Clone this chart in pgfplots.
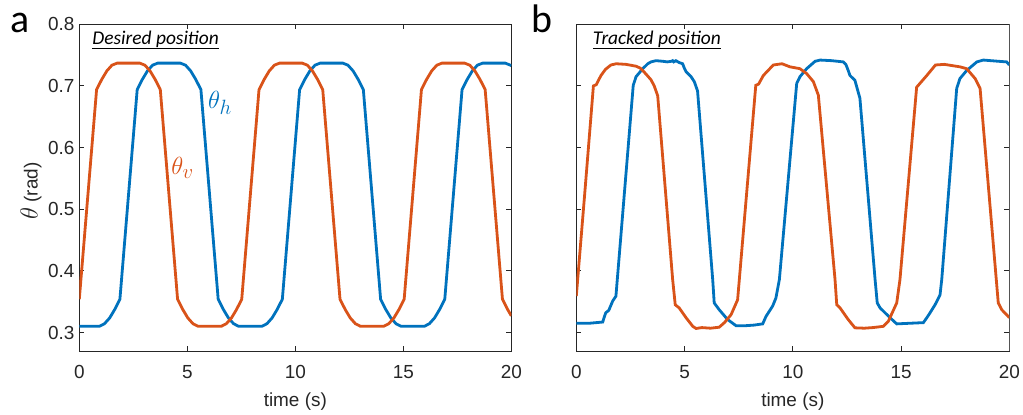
\documentclass[border=0pt]{standalone}
\usepackage{pgfplots}
\pgfplotsset{compat=1.18}
\usepackage{fontspec}
\setmainfont{Liberation Sans}
\newfontfamily\carlito{Carlito}
\definecolor{mblue}{RGB}{0,114,189}
\definecolor{morange}{RGB}{217,83,25}
\pgfplotsset{
  panel/.style={
    scale only axis, height=326.7bp,
    xmin=0, xmax=20, ymin=0.27, ymax=0.8,
    xtick={0,5,10,15,20}, ytick={0.3,0.4,0.5,0.6,0.7,0.8},
    scaled ticks=false,
    tick align=inside, tick pos=both,
    major tick length=5bp,
    axis line style={line width=0.9bp, black!85},
    every tick/.style={black!85, line width=0.9bp},
    tick label style={font=\fontsize{19}{22}\selectfont, text=black!85},
    /pgf/number format/assume math mode=true,
    xticklabel style={anchor=base, yshift=-27bp},
    yticklabel style={/pgf/number format/fixed, /pgf/number format/fixed zerofill, /pgf/number format/precision=1, xshift=-1.3bp},
    xlabel style={at={(axis description cs:0.5,-0.1714)}, anchor=base, font=\fontsize{19}{22}\selectfont, text=black!85},
    every axis plot/.append style={line width=2.8bp},
  }
}
\begin{document}
\begin{tikzpicture}
\useasboundingbox (0,0) rectangle (1023bp,415bp);
\begin{axis}[panel, width=432bp, at={(79.3bp,64bp)}, anchor=south west,
  xlabel={time (s)}]
\addplot[mblue] coordinates {(0,0.310)(0.93,0.310)(1.1675,0.3143)(1.405,0.3236)(1.6425,0.3375)(1.88,0.354)(2.68,0.694)(2.9175,0.7105)(3.155,0.7244)(3.3925,0.7337)(3.63,0.737)(4.68,0.737)(4.9175,0.7337)(5.155,0.7244)(5.3925,0.7105)(5.63,0.694)(6.43,0.354)(6.6675,0.3375)(6.905,0.3236)(7.1425,0.3143)(7.38,0.310)(8.45,0.310)(8.6875,0.3143)(8.925,0.3236)(9.1625,0.3375)(9.4,0.354)(10.2,0.694)(10.4375,0.7105)(10.675,0.7244)(10.9125,0.7337)(11.15,0.737)(12.2,0.737)(12.4375,0.7337)(12.675,0.7244)(12.9125,0.7105)(13.15,0.694)(13.95,0.354)(14.1875,0.3375)(14.425,0.3236)(14.6625,0.3143)(14.9,0.310)(15.97,0.310)(16.2075,0.3143)(16.445,0.3236)(16.6825,0.3375)(16.92,0.354)(17.72,0.694)(17.9575,0.7105)(18.195,0.7244)(18.4325,0.7337)(18.67,0.737)(19.72,0.737)(19.9575,0.7337)(20,0.7325)};
\addplot[morange] coordinates {(0,0.354)(0.8,0.694)(1.0375,0.7105)(1.275,0.7244)(1.5125,0.7337)(1.75,0.737)(2.8,0.737)(3.0375,0.7337)(3.275,0.7244)(3.5125,0.7105)(3.75,0.694)(4.55,0.354)(4.7875,0.3375)(5.025,0.3236)(5.2625,0.3143)(5.5,0.310)(6.57,0.310)(6.8075,0.3143)(7.045,0.3236)(7.2825,0.3375)(7.52,0.354)(8.32,0.694)(8.5575,0.7105)(8.795,0.7244)(9.0325,0.7337)(9.27,0.737)(10.32,0.737)(10.5575,0.7337)(10.795,0.7244)(11.0325,0.7105)(11.27,0.694)(12.07,0.354)(12.3075,0.3375)(12.545,0.3236)(12.7825,0.3143)(13.02,0.310)(14.09,0.310)(14.3275,0.3143)(14.565,0.3236)(14.8025,0.3375)(15.04,0.354)(15.84,0.694)(16.0775,0.7105)(16.315,0.7244)(16.5525,0.7337)(16.79,0.737)(17.84,0.737)(18.0775,0.7337)(18.315,0.7244)(18.5525,0.7105)(18.79,0.694)(19.59,0.354)(19.8275,0.3375)(20,0.327)};
\node[anchor=base west, inner sep=0, font=\carlito\itshape\fontsize{19.5}{21}\selectfont] at (rel axis cs:0.030,0.9397) {\underline{Desired position}};
\node[anchor=west, inner sep=0, text=mblue, font=\fontsize{31}{33}\selectfont] at (axis cs:5.96,0.672) {$\theta_h$};
\node[anchor=west, inner sep=0, text=morange, font=\fontsize{31}{33}\selectfont] at (axis cs:4.25,0.567) {$\theta_v$};
\end{axis}
\node[rotate=90, anchor=base, inner sep=0, text=black!85, font=\fontsize{19}{22}\selectfont] at (37.5bp,224bp) {{\fontsize{24}{26}\selectfont$\theta$} (rad)};
\begin{axis}[panel, width=433bp, at={(576.3bp,64bp)}, anchor=south west,
  xlabel={time (s)}, yticklabels={}]
\addplot[mblue] coordinates {(0,0.315)(0.6,0.315)(1.22,0.317)(1.30,0.326)(1.36,0.332)(1.5,0.336)(1.68,0.351)(1.83,0.359)(2.63,0.701)(2.76,0.715)(3.07,0.728)(3.3,0.736)(3.45,0.739)(3.68,0.741)(4.0,0.740)(4.2,0.739)(4.4,0.740)(4.45,0.741)(4.5,0.739)(4.6,0.741)(4.75,0.738)(4.91,0.736)(5.0,0.728)(5.07,0.723)(5.3,0.715)(5.45,0.707)(5.6,0.692)(6.3,0.386)(6.37,0.348)(6.6,0.337)(6.99,0.321)(7.38,0.311)(7.8,0.311)(8.2,0.312)(8.61,0.314)(8.76,0.326)(9.07,0.343)(9.22,0.356)(9.38,0.386)(10.18,0.704)(10.33,0.715)(10.64,0.728)(11.03,0.740)(11.26,0.742)(11.8,0.741)(12.33,0.739)(12.45,0.735)(12.56,0.725)(12.64,0.717)(12.87,0.709)(13.1,0.680)(13.8,0.386)(13.9,0.348)(14.03,0.340)(14.49,0.324)(14.8,0.314)(15.4,0.315)(16.03,0.316)(16.19,0.324)(16.34,0.332)(16.57,0.345)(16.8,0.361)(16.88,0.386)(17.57,0.696)(17.72,0.712)(18.03,0.725)(18.5,0.739)(18.8,0.742)(19.5,0.740)(19.88,0.739)(20,0.734)};
\addplot[morange] coordinates {(0,0.359)(0.4,0.53)(0.79,0.700)(0.92,0.702)(1.14,0.717)(1.35,0.727)(1.6,0.734)(1.84,0.736)(2.3,0.735)(2.76,0.732)(2.95,0.729)(3.07,0.725)(3.25,0.718)(3.45,0.710)(3.6,0.700)(3.76,0.684)(4.45,0.386)(4.57,0.345)(4.75,0.340)(5.07,0.324)(5.38,0.310)(5.53,0.3065)(5.8,0.308)(6.2,0.307)(6.6,0.3086)(6.84,0.316)(7.15,0.329)(7.45,0.353)(7.53,0.386)(8.29,0.701)(8.42,0.703)(8.64,0.717)(9.1,0.734)(9.5,0.736)(9.87,0.731)(10.33,0.728)(10.64,0.720)(10.95,0.707)(11.18,0.685)(11.95,0.386)(12.03,0.345)(12.18,0.340)(12.56,0.321)(12.87,0.3076)(13.3,0.307)(13.7,0.308)(14.18,0.310)(14.41,0.318)(14.8,0.348)(14.95,0.386)(15.72,0.698)(15.82,0.702)(16.19,0.717)(16.59,0.734)(17.0,0.735)(17.72,0.731)(18.03,0.728)(18.42,0.712)(18.65,0.696)(19.49,0.348)(19.65,0.337)(19.95,0.326)(20,0.324)};
\node[anchor=base west, inner sep=0, font=\carlito\itshape\fontsize{19.5}{21}\selectfont] at (rel axis cs:0.038,0.9397) {\underline{Tracked position}};
\draw[black!35, line width=1.6bp] (rel axis cs:1,0) -- (rel axis cs:1,1);
\end{axis}
\node[anchor=base west, inner sep=0, font=\carlito\fontsize{40}{44}\selectfont] at (10bp,382bp) {a};
\node[anchor=base west, inner sep=0, font=\carlito\fontsize{40}{44}\selectfont] at (531.7bp,382bp) {b};
\end{tikzpicture}
\end{document}
